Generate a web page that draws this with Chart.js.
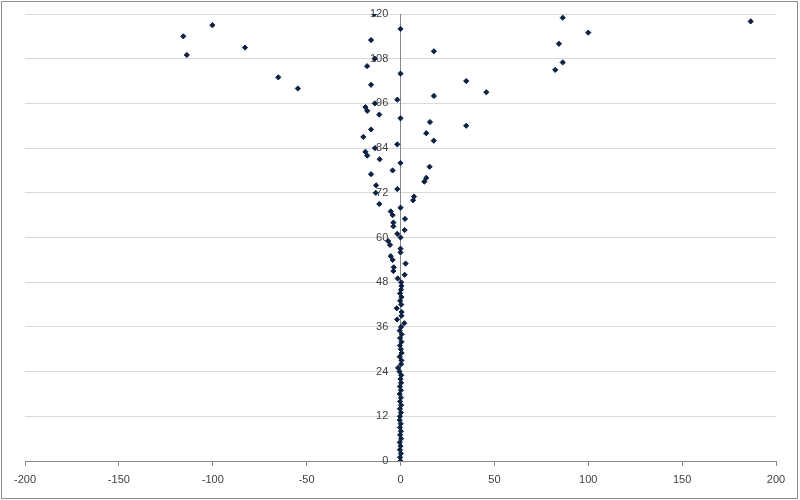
<!DOCTYPE html>
<html lang="en">
  <head>
    <meta charset="UTF-8" />
    <title>Scatter</title>
    <script src="https://cdn.jsdelivr.net/npm/chart.js@4.4.0/dist/chart.umd.min.js"></script>
    <style>
      body { margin: 0; background: #fff; }
      #wrap { width: 800px; height: 500px; position: relative; }
    </style>
  </head>
  <body>
    <div id="wrap"><canvas id="chart"></canvas></div>
    <script>
      // one point per row, y = 0..120
      const yValues = [
        0, 1, 2, 3, 4, 5, 6, 7, 8, 9, 10, 11, 12, 13, 14, 15, 16, 17, 18, 19,
        20, 21, 22, 23, 24, 25, 26, 27, 28, 29, 30, 31, 32, 33, 34, 35, 36, 37, 38, 39,
        40, 41, 42, 43, 44, 45, 46, 47, 48, 49, 50, 51, 52, 53, 54, 55, 56, 57, 58, 59,
        60, 61, 62, 63, 64, 65, 66, 67, 68, 69, 70, 71, 72, 73, 74, 75, 76, 77, 78, 79,
        80, 81, 82, 83, 84, 85, 86, 87, 88, 89, 90, 91, 92, 93, 94, 95, 96, 97, 98, 99,
        100, 101, 102, 103, 104, 105, 106, 107, 108, 109, 110, 111, 112, 113, 114, 115, 116, 117, 118, 119,
        120
      ];
      const xValues = [
        0, -0.2, 0.2, -0.3, 0, -0.4, 0.3, -0.2, 0.2, -0.3, 0.1, -0.4, -0.3, 0.2, -0.3, 0.3, -0.2, 0.2, -0.4, 0.2,
        -0.3, 0.3, 0, 0.4, -0.5, -1.3, 0.3, 0.5, -0.4, 0.6, 0.2, -0.3, 0.5, -0.2, 0.6, -0.4, 0.3, 2, -1.8, 0.5,
        0.6, -2, 0.4, -0.2, 0.5, -0.2, 0.3, 0.5, 0.3, -1.5, 2.2, -3.8, -3.6, 2.7, -4.2, -5.2, 0, 0, -5.6, -6.5,
        0, -1.7, 2.2, -3.8, -3.8, 2.4, -4.2, -5.2, 0, -11.3, 6.7, 7.2, -13.2, -1.7, -13, 12.7, 13.7, -15.7, -4.2, 15.5,
        0, -11.1, -17.7, -18.7, -13.6, -1.7, 17.7, -19.8, 13.7, -15.7, 35, 15.7, 0, -11.3, -17.7, -18.7, -13.7, -1.7, 17.8, 45.7,
        -54.7, -15.7, 35, -65.1, 0, 82.4, -17.8, 86.4, -13.7, -113.8, 17.8, -82.8, 84.4, -15.7, -115.7, 100, 0, -100.2, 186.5, 86.4,
        -14
      ];
      const xTicks = [-200, -150, -100, -50, 0, 50, 100, 150, 200];
      const yTicks = [0, 12, 24, 36, 48, 60, 72, 84, 96, 108, 120];

      const points = xValues.map((x, i) => ({ x: x, y: yValues[i] }));

      // grey frame round the whole picture
      const frame = {
        id: "frame",
        beforeDraw(chart) {
          const c = chart.ctx;
          c.save();
          c.fillStyle = "#fff";
          c.fillRect(0, 0, chart.width, chart.height);
          c.strokeStyle = "#8c8c8c";
          c.lineWidth = 1;
          c.strokeRect(1.5, 1.5, 796, 497);
          c.restore();
        },
      };

      const font = { family: "'Liberation Sans', Arial, sans-serif", size: 11 };

      new Chart(document.getElementById("chart"), {
        type: "scatter",
        data: {
          datasets: [
            {
              data: points,
              pointStyle: "rectRot",
              pointRadius: 2.6,
              pointHoverRadius: 2.6,
              backgroundColor: "#0d2143",
              borderColor: "#0d2143",
              borderWidth: 1,
            },
          ],
        },
        options: {
          responsive: true,
          maintainAspectRatio: false,
          animation: false,
          layout: { padding: { left: 25, right: 24, top: 14, bottom: 6.8 } },
          plugins: { legend: { display: false }, tooltip: { enabled: false } },
          scales: {
            x: {
              type: "linear",
              position: "bottom",
              min: xTicks[0],
              max: xTicks[xTicks.length - 1],
              afterBuildTicks: (s) => { s.ticks = xTicks.map((v) => ({ value: v })); },
              grid: { drawOnChartArea: false, drawTicks: true, tickLength: 5, color: "#878787" },
              border: { color: "#878787" },
              ticks: { font: font, color: "#404040", padding: 7, maxRotation: 0 },
            },
            y: {
              type: "linear",
              position: { x: 0 },
              min: yTicks[0],
              max: yTicks[yTicks.length - 1],
              afterBuildTicks: (s) => { s.ticks = yTicks.map((v) => ({ value: v })); },
              grid: { color: "#d9d9d9", tickLength: 5 },
              border: { color: "#878787" },
              // labels sit right on the axis when it is placed at x = 0, so pad with spaces
              ticks: { font: font, color: "#404040", callback: (v) => v + "    " },
            },
          },
        },
        plugins: [frame],
      });
    </script>
  </body>
</html>
